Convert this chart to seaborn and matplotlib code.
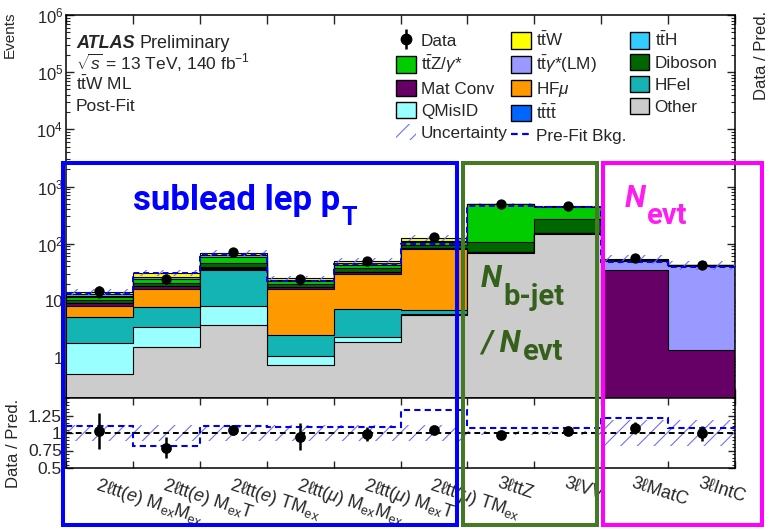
import numpy as np
import matplotlib
matplotlib.use("Agg")
import matplotlib.pyplot as plt
import seaborn as sns
from matplotlib.patches import Patch, Rectangle
from matplotlib.lines import Line2D
from matplotlib.legend_handler import HandlerTuple
from matplotlib.ticker import FixedLocator, FixedFormatter, LogLocator, NullFormatter, MultipleLocator

# ---------------- data ----------------
regions = [
    "2ℓtt($e$) M$_{\\mathrm{ex}}$M$_{\\mathrm{ex}}$",
    "2ℓtt($e$) M$_{\\mathrm{ex}}$T",
    "2ℓtt($e$) TM$_{\\mathrm{ex}}$",
    "2ℓtt($\\mu$) M$_{\\mathrm{ex}}$M$_{\\mathrm{ex}}$",
    "2ℓtt($\\mu$) M$_{\\mathrm{ex}}$T",
    "2ℓtt($\\mu$) TM$_{\\mathrm{ex}}$",
    "3ℓttZ",
    "3ℓVV",
    "3ℓMatC",
    "3ℓIntC",
]

# post-fit yields per region (stack order, bottom to top)
other   = [0.52, 1.56, 3.8, 0.75, 1.9, 5.7, 69.0, 150.0, 0.05, 0.05]
qmisid  = [1.31, 1.94, 4.4, 0.33, 0.4, 0.3, 0.5, 0.5, 0.03, 0.03]
hfel    = [3.4, 4.3, 26.8, 1.42, 4.9, 1.0, 1.0, 1.0, 0.03, 0.03]
hfmu    = [3.0, 8.5, 0.5, 13.8, 22.8, 75.0, 1.0, 1.5, 0.03, 0.03]
matconv = [0.8, 1.7, 2.5, 1.0, 2.0, 3.0, 1.0, 2.0, 35.0, 1.27]
ttgam   = [0.2, 0.3, 0.5, 0.2, 0.5, 0.5, 0.5, 1.0, 15.0, 40.0]
diboson = [1.2, 2.2, 7.5, 2.0, 4.5, 8.0, 35.0, 119.0, 0.5, 0.2]
ttz     = [1.3, 3.5, 13.0, 2.5, 5.5, 12.0, 380.0, 165.0, 1.0, 0.3]
tttt    = [0.2, 0.3, 0.5, 0.2, 0.5, 1.0, 3.0, 1.0, 0.1, 0.05]
tth     = [1.0, 2.2, 3.5, 1.3, 2.5, 7.0, 4.0, 3.0, 0.5, 0.1]
ttw     = [1.5, 4.5, 6.0, 1.5, 4.5, 13.5, 5.0, 6.0, 1.0, 0.2]

data      = [14.8, 24.5, 72.0, 23.7, 49.0, 132.0, 485.0, 460.0, 57.0, 42.0]
ratio_err = [0.26, 0.15, 0.07, 0.19, 0.10, 0.05, 0.03, 0.03, 0.09, 0.11]
rel_unc   = [0.11, 0.11, 0.11, 0.11, 0.11, 0.11, 0.03, 0.03, 0.18, 0.18]
prefit    = [13.5, 30.2, 65.5, 21.9, 45.0, 99.0, 453.0, 430.0, 47.0, 39.3]

# ---------------- style ----------------
sns.set_theme(style="ticks")
plt.rcParams["font.family"] = ["Liberation Sans", "DejaVu Sans"]
plt.rcParams["mathtext.fontset"] = "custom"
plt.rcParams["mathtext.rm"] = "Liberation Sans"
plt.rcParams["mathtext.it"] = "Liberation Sans:italic"
plt.rcParams["mathtext.bf"] = "Liberation Sans:bold"
plt.rcParams["mathtext.sf"] = "Liberation Sans"
plt.rcParams["hatch.linewidth"] = 0.8
plt.rcParams["axes.linewidth"] = 1.1

colors = {
    "Other": "#cccccc", "QMisID": "#99ffff", "HFel": "#14b4b4", "HFmu": "#ff9900",
    "MatConv": "#660066", "LM": "#9999ff", "Diboson": "#006600", "ttZ": "#00cc00",
    "tttt": "#0066ff", "ttH": "#33ccff", "ttW": "#ffff00",
}
stack = [
    ("Other", other), ("QMisID", qmisid), ("HFel", hfel), ("HFmu", hfmu),
    ("MatConv", matconv), ("LM", ttgam), ("Diboson", diboson), ("ttZ", ttz),
    ("tttt", tttt), ("ttH", tth), ("ttW", ttw),
]
hatch_col = "#6e6eff"

W, H = 770, 531
def fx(px):
    return px / W
def fy(py):
    return 1 - py / H

nb = len(regions)
edges = np.arange(nb + 1)
centers = edges[:-1] + 0.5

fig = plt.figure(figsize=(W / 100, H / 100), dpi=100)
ax = fig.add_axes([fx(66), fy(398), (735 - 66) / W, (398 - 15) / H])
axr = fig.add_axes([fx(66), fy(468), (735 - 66) / W, (468 - 398) / H])

# ---------------- main panel ----------------
ax.set_yscale("log")
cum = np.cumsum(np.array([v for _, v in stack]), axis=0)
for k in range(len(stack) - 1, -1, -1):
    ax.stairs(cum[k], edges, baseline=1e-3, fill=True,
              facecolor=colors[stack[k][0]], edgecolor="black", lw=0.8, zorder=2)
total = cum[-1]

ax.stairs(total * (1 + np.array(rel_unc)), edges, baseline=total * (1 - np.array(rel_unc)),
          fill=True, facecolor="none", edgecolor=hatch_col, hatch="//", lw=0, zorder=3)
ax.stairs(np.array(prefit), edges, baseline=None, color="#0000ee", ls=(0, (3, 2)),
          lw=1.4, zorder=4)

data = np.array(data)
err_main = np.array(ratio_err) * total
ax.errorbar(centers, data, yerr=err_main, fmt="none", ecolor="black", elinewidth=1.8, zorder=5)
sns.scatterplot(x=centers, y=data, ax=ax, color="black", s=55, edgecolor="black",
                linewidth=0, zorder=6, legend=False)

ax.set_xlim(0, nb)
ax.set_ylim(0.2, 1e6)
ax.yaxis.set_major_locator(FixedLocator([1, 10, 1e2, 1e3, 1e4, 1e5, 1e6]))
ax.yaxis.set_major_formatter(FixedFormatter(
    ["1", "10", r"10$^{2}$", r"10$^{3}$", r"10$^{4}$", r"10$^{5}$", r"10$^{6}$"]))
ax.yaxis.set_minor_locator(LogLocator(base=10, subs=np.arange(2, 10), numticks=30))
ax.yaxis.set_minor_formatter(NullFormatter())
ax.set_xticks(edges)
ax.set_xticklabels([])
ax.tick_params(axis="x", which="major", direction="in", top=True, bottom=True, length=6.5, width=1)
ax.tick_params(axis="y", which="major", direction="in", left=True, right=True, length=6, width=1,
               labelsize=12, pad=2)
ax.tick_params(axis="y", which="minor", direction="in", left=True, right=True, length=3, width=0.8)
for s in ax.spines.values():
    s.set_visible(True)
    s.set_color("black")

# ---------------- ratio panel ----------------
ratio = data / total
ru = np.array(rel_unc)
axr.stairs(1 + ru, edges, baseline=1 - ru, fill=True, facecolor="none",
           edgecolor=hatch_col, hatch="//", lw=0, zorder=2)
axr.axhline(1.0, color="black", ls=(0, (3, 2)), lw=1.4, zorder=3)
axr.stairs(data / np.array(prefit), edges, baseline=None, color="#0000ee",
           ls=(0, (3, 2)), lw=1.5, zorder=4)
axr.errorbar(centers, ratio, yerr=ratio_err, fmt="none", ecolor="black", elinewidth=1.8, zorder=5)
sns.scatterplot(x=centers, y=ratio, ax=axr, color="black", s=60, linewidth=0, zorder=6, legend=False)

axr.set_xlim(0, nb)
axr.set_ylim(0.5, 1.5)
axr.set_yticks([0.5, 0.75, 1.0, 1.25])
axr.set_yticklabels(["0.5", "0.75", "1", "1.25"])
axr.yaxis.set_minor_locator(MultipleLocator(0.05))
axr.set_xticks(edges)
axr.set_xticklabels([])
axr.set_xticks(centers, minor=True)
axr.set_xticklabels(regions, minor=True, rotation=-18, ha="left", va="top",
                    rotation_mode="anchor", fontsize=13)
axr.tick_params(axis="x", which="major", direction="in", top=True, bottom=True, length=5, width=1)
axr.tick_params(axis="x", which="minor", length=0, pad=5)
axr.tick_params(axis="y", which="major", direction="in", left=True, right=True, length=5, width=1,
                labelsize=12.5, pad=3)
axr.tick_params(axis="y", which="minor", direction="in", left=True, right=True, length=2.5, width=0.8)
for s in axr.spines.values():
    s.set_visible(True)
    s.set_color("black")

# ---------------- axis titles and labels ----------------
fig.text(fx(10), fy(12), "Events", rotation=90, ha="center", va="top", fontsize=11)
fig.text(fx(14), fy(443), "Data / Pred.", rotation=90, ha="center", va="center", fontsize=12)
fig.text(fx(762), fy(100), "Data / Pred.", rotation=90, ha="center", va="bottom", fontsize=12)

t_atlas = fig.text(fx(76), fy(48.5), "ATLAS", fontsize=13, fontweight="bold", fontstyle="italic",
                   va="baseline")
fig.text(fx(76), fy(70), r"$\sqrt{s}$ = 13 TeV, 140 fb$^{-1}$", fontsize=12.5, va="baseline")
fig.text(fx(76), fy(90.5), r"t$\bar{\mathrm{t}}$W ML", fontsize=12.5, va="baseline")
fig.text(fx(76), fy(111), "Post-Fit", fontsize=12.5, va="baseline")

# ---------------- legend ----------------
def box(c):
    return Patch(facecolor=c, edgecolor="black", lw=1)

h_data = (Line2D([], [], marker="|", ms=15, mew=1.8, color="black", ls=""),
          Line2D([], [], marker="o", ms=7.5, color="black", ls=""))
h_unc = Patch(facecolor="none", edgecolor=hatch_col, hatch="//", lw=0)
h_pre = Line2D([], [], color="#0000ee", ls=(0, (3, 2)), lw=1.6)
handles = [
    h_data, box(colors["ttZ"]), box(colors["MatConv"]), box(colors["QMisID"]), h_unc,
    box(colors["ttW"]), box(colors["LM"]), box(colors["HFmu"]), box(colors["tttt"]), h_pre,
    box(colors["ttH"]), box(colors["Diboson"]), box(colors["HFel"]), box(colors["Other"]),
]
labels = [
    "Data", r"t$\bar{\mathrm{t}}$Z/$\gamma$*", "Mat Conv", "QMisID", "Uncertainty",
    r"t$\bar{\mathrm{t}}$W", r"t$\bar{\mathrm{t}}\gamma$*(LM)", r"HF$\mu$",
    r"t$\bar{\mathrm{t}}$t$\bar{\mathrm{t}}$", "Pre-Fit Bkg.",
    r"t$\bar{\mathrm{t}}$H", "Diboson", "HFel", "Other",
]
ax.legend(handles, labels, ncol=3, loc="upper left", bbox_to_anchor=(fx(396), fy(31)),
          bbox_transform=fig.transFigure, frameon=False, fontsize=12.3,
          handlelength=1.15, handleheight=1.1, handletextpad=0.3, columnspacing=0.2,
          labelspacing=0.28, borderpad=0, borderaxespad=0,
          handler_map={tuple: HandlerTuple(ndivide=1, pad=0)})

# ---------------- category boxes ----------------
blue, green, magenta = "#0000ff", "#447a24", "#ff00ff"
for (x0, x1, c) in [(63, 457, blue), (463.5, 597, green), (602.5, 762, magenta)]:
    fig.add_artist(Rectangle((fx(x0), fy(524.5)), (x1 - x0) / W, (524.5 - 162.5) / H,
                             transform=fig.transFigure, fill=False, ec=c, lw=2.9, zorder=20))

fig.canvas.draw()
rend = fig.canvas.get_renderer()

# ATLAS label continuation
bb = t_atlas.get_window_extent(rend)
fig.text((bb.x1 + 5) / W, fy(48.5), "Preliminary", fontsize=13, va="baseline")

def follow(t, s, y_px, gap=1.0, **kw):
    b = t.get_window_extent(rend)
    return fig.text((b.x1 + gap) / W, fy(y_px), s, va="baseline", zorder=21, **kw)

ann = dict(family=["Roboto", "DejaVu Sans"], fontweight="bold")
t1 = fig.text(fx(133), fy(210), "sublead lep p", color=blue, fontsize=25, va="baseline",
              zorder=21, **ann)
follow(t1, "T", 225, gap=1, color=blue, fontsize=18, **ann)

tg1 = fig.text(fx(481), fy(287), "N", color="#34601c", fontsize=22, fontstyle="italic",
               va="baseline", zorder=21, **ann)
follow(tg1, "b-jet", 305, gap=1, color="#34601c", fontsize=21, **ann)
tg2 = fig.text(fx(481), fy(352), "/ N", color="#34601c", fontsize=22, fontstyle="italic",
               va="baseline", zorder=21, **ann)
follow(tg2, "evt", 360, gap=2, color="#34601c", fontsize=21, **ann)

tm = fig.text(fx(625), fy(207), "N", color="#ff1ef0", fontsize=22, fontstyle="italic",
              va="baseline", zorder=21, **ann)
follow(tm, "evt", 224, gap=1, color="#ff1ef0", fontsize=21, **ann)

fig.savefig("out.png", dpi=100)
